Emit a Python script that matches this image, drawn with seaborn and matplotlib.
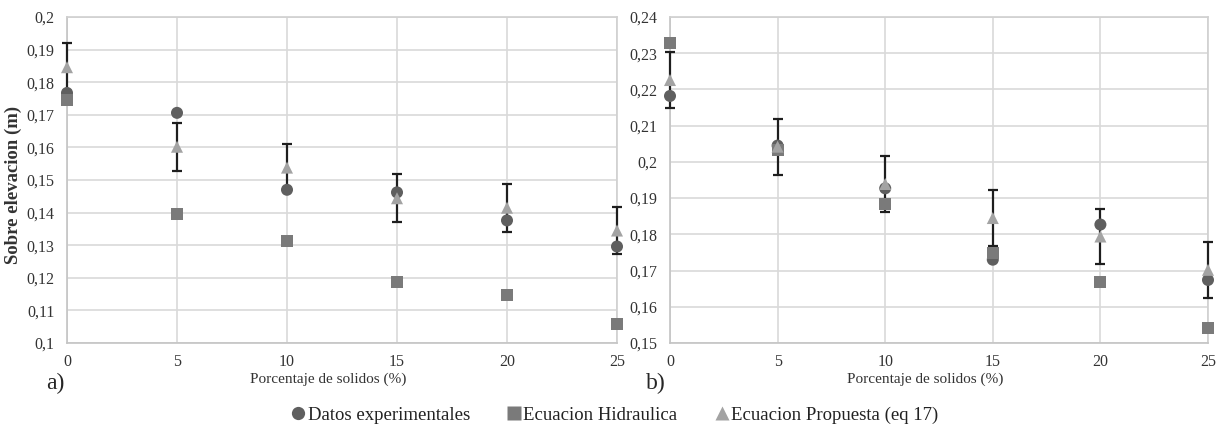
import numpy as np
import pandas as pd
import matplotlib
matplotlib.use("Agg")
import matplotlib.pyplot as plt
import seaborn as sns
from matplotlib.ticker import FuncFormatter, MultipleLocator

# ── Data ───────────────────────────────
solidos = [0, 5, 10, 15, 20, 25]

# panel a)
datos_a = [0.1767, 0.1706, 0.1470, 0.1462, 0.1376, 0.1296]
hidra_a = [0.1746, 0.1397, 0.1312, 0.1188, 0.1147, 0.1057]
prop_a = [0.1846, 0.1602, 0.1538, 0.1444, 0.1415, 0.1345]
err_a = [0.0073, 0.0073, 0.0073, 0.0073, 0.0073, 0.0073]

# panel b)
datos_b = [0.2182, 0.2045, 0.1927, 0.1730, 0.1827, 0.1674]
hidra_b = [0.2327, 0.2032, 0.1884, 0.1748, 0.1668, 0.1542]
prop_b = [0.2226, 0.2042, 0.1939, 0.1845, 0.1794, 0.1702]
err_b = [0.0077, 0.0077, 0.0077, 0.0077, 0.0077, 0.0077]

series = ["Datos experimentales", "Ecuacion Hidraulica", "Ecuacion Propuesta (eq 17)"]
colors = ["#5f5f5f", "#7a7a7a", "#a3a3a3"]
markers = ["o", "s", "^"]


def long_df(datos, hidra, prop):
    frames = []
    for name, vals in zip(series, [datos, hidra, prop]):
        frames.append(pd.DataFrame({"x": solidos, "y": vals, "serie": name}))
    return pd.concat(frames, ignore_index=True)


sns.set_style("white")
plt.rcParams["font.family"] = ["Liberation Serif", "DejaVu Serif"]

fig = plt.figure(figsize=(12.25, 4.32), dpi=100)
ax_a = fig.add_axes([67 / 1225, 1 - 343 / 432, 550 / 1225, 326 / 432])
ax_b = fig.add_axes([670 / 1225, 1 - 343 / 432, 538 / 1225, 326 / 432])

comma = FuncFormatter(lambda v, p: ("%g" % round(v, 3)).replace(".", ","))

panels = [
    (ax_a, datos_a, hidra_a, prop_a, err_a, (0.1, 0.2)),
    (ax_b, datos_b, hidra_b, prop_b, err_b, (0.15, 0.24)),
]

for ax, d, h, p, e, ylim in panels:
    eb = ax.errorbar(solidos, p, yerr=e, fmt="none", ecolor="#1e1e1e",
                     elinewidth=1.6, capsize=3.5, capthick=1.6, zorder=3)
    for art in eb.lines[1] + eb.lines[2]:
        art.set_clip_on(False)
    sns.scatterplot(data=long_df(d, h, p), x="x", y="y", hue="serie", style="serie",
                    palette=colors, markers=markers, s=75, edgecolor="none",
                    ax=ax, zorder=4, clip_on=False)
    ax.set_xlim(0, 25)
    ax.set_ylim(*ylim)
    ax.xaxis.set_major_locator(MultipleLocator(5))
    ax.yaxis.set_major_locator(MultipleLocator(0.01))
    ax.yaxis.set_major_formatter(comma)
    ax.grid(True, color="#d9d9d9", linewidth=1.2)
    ax.set_axisbelow(True)
    for side, sp in ax.spines.items():
        sp.set_color("#d0d0d0")
        sp.set_linewidth(1.2)
    ax.spines["left"].set_color("#c4c4c4")
    ax.spines["bottom"].set_color("#c4c4c4")
    ax.tick_params(length=0, labelsize=11.5, colors="#333333")
    ax.tick_params(axis="x", pad=8)
    ax.tick_params(axis="y", pad=9)
    ax.set_xlabel("Porcentaje de solidos (%)", fontsize=11, color="#333333")
    ax.xaxis.set_label_coords(0.475, -0.09)
    ax.set_ylabel("")
    handles, labels = ax.get_legend_handles_labels()
    ax.get_legend().remove()

ax_a.set_ylabel("Sobre elevacion (m)", fontsize=13.5, fontweight="bold",
                color="#333333")
ax_a.yaxis.set_label_coords(-0.082, 0.485)

fig.text(55 / 1225, 1 - 383 / 432, "a)", fontsize=17, ha="center", va="center")
fig.text(656 / 1225, 1 - 383 / 432, "b)", fontsize=17, ha="center", va="center")

fig.legend(handles, labels, loc="center", bbox_to_anchor=(0.502, 1 - 415 / 432),
           ncol=3, frameon=False, fontsize=13.5, handletextpad=0.15,
           handlelength=0.7, columnspacing=2.0, markerscale=1.1,
           labelcolor="#222222")

fig.savefig("out.png", dpi=100, facecolor="white")
